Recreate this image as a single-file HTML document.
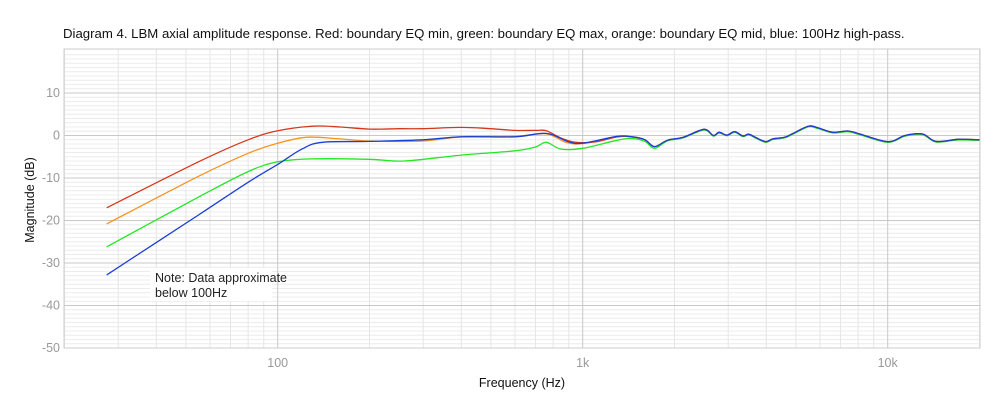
<!DOCTYPE html>
<html><head><meta charset="utf-8"><style>
body{margin:0;background:#fff;width:1000px;height:417px;overflow:hidden}
svg{display:block;font-family:"Liberation Sans",sans-serif}
</style></head><body>
<svg id="s" width="1000" height="417" viewBox="0 0 1000 417">
<text x="63" y="38" font-size="13.2" fill="#111">Diagram 4. LBM axial amplitude response. Red: boundary EQ min, green: boundary EQ max, orange: boundary EQ mid, blue: 100Hz high-pass.</text>
<g id="grid"></g>
<g id="curves" fill="none" stroke-width="1.3"></g>
<rect x="150" y="268" width="122" height="33" fill="#fff"/>
<text x="155" y="282" font-size="12.5" fill="#222">Note: Data approximate</text>
<text x="155" y="297" font-size="12.5" fill="#222">below 100Hz</text>
<text transform="translate(34,200) rotate(-90)" text-anchor="middle" font-size="12.5" fill="#111">Magnitude (dB)</text>
<text x="522" y="387" text-anchor="middle" font-size="12.5" fill="#111">Frequency (Hz)</text>
<g id="labels" font-size="12.5" fill="#999"></g>
</svg>
<script>
const L=64,R=980,T=49,B=348;
const X=f=>277.7+305*Math.log10(f/100);
const Y=d=>135.5-4.25*d;
const ns="http://www.w3.org/2000/svg";
function el(p,t,a,txt){const e=document.createElementNS(ns,t);for(const k in a)e.setAttribute(k,a[k]);if(txt)e.textContent=txt;document.getElementById(p).appendChild(e);}
for(let d=-50;d<=20;d++){if(d%10)el("grid","line",{x1:L,x2:R,y1:Y(d),y2:Y(d),stroke:"#ececec","stroke-width":1});}
for(const dec of [10,100,1000,10000])for(let m=2;m<=9;m++){const f=dec*m;const x=X(f);if(x>L&&x<R)el("grid","line",{x1:x,x2:x,y1:T,y2:B,stroke:"#e6e6e6","stroke-width":1});}
for(let d=-50;d<=10;d+=10){el("grid","line",{x1:L,x2:R,y1:Y(d),y2:Y(d),stroke:"#c8c8c8","stroke-width":1});el("labels","text",{x:60,y:Y(d)+4,"text-anchor":"end"},String(d));}
[[100,"100"],[1000,"1k"],[10000,"10k"]].forEach(([f,t])=>{el("grid","line",{x1:X(f),x2:X(f),y1:T,y2:B,stroke:"#c8c8c8","stroke-width":1});el("labels","text",{x:X(f),y:367,"text-anchor":"middle"},t);});
el("grid","rect",{x:L,y:T,width:R-L,height:B-T,fill:"none",stroke:"#ccc","stroke-width":1});
const hi=[[1450,-0.3],[1600,-1],[1720,-2.6],[1900,-1.1],[2140,-0.4],[2500,1.45],[2680,0],[2800,0.75],[2970,0.1],[3150,0.9],[3350,-0.1],[3500,0.3],[3700,-0.5],[3980,-1.45],[4200,-0.8],[4600,-0.4],[4900,0.5],[5500,2.2],[5900,1.8],[6600,0.75],[7400,1.05],[8100,0.35],[10000,-1.45],[11400,0],[13000,0.35],[14400,-1.4],[17000,-0.9],[20000,-1.0]];
const S={
red:[[27.5,-17],[55,-6.2],[80,-1],[100,1.1],[130,2.2],[160,2.0],[200,1.5],[250,1.6],[300,1.6],[400,1.9],[500,1.6],[600,1.2],[700,1.2],[760,1.1],[850,-0.6],[950,-1.6],[1100,-1.5],[1300,-0.3]],
orange:[[27.5,-20.8],[55,-9.6],[80,-4.2],[100,-1.8],[125,-0.4],[160,-0.8],[200,-1.3],[300,-1.3],[400,-0.3],[600,-0.2],[760,0.4],[880,-1.6],[1000,-1.9],[1300,-0.3]],
green:[[27.5,-26.2],[55,-14.5],[80,-8.5],[100,-6.2],[130,-5.5],[200,-5.6],[260,-6],[400,-4.6],[600,-3.6],[700,-2.7],[760,-1.6],[850,-3.2],[1000,-3],[1300,-1.1]],
blue:[[27.5,-32.8],[55,-18.7],[80,-11],[100,-6.8],[120,-3.2],[140,-1.6],[200,-1.4],[300,-1],[400,-0.3],[600,-0.3],[760,0.5],[900,-1.5],[1000,-1.8],[1300,-0.2]]};
const col={orange:"#f7931e",green:"#22e822",red:"#d4391c",blue:"#1a3fd8"};
function path(pts){const P=pts.map(([f,d])=>[X(f),Y(d)]);let s="M"+P[0][0].toFixed(1)+","+P[0][1].toFixed(1);
for(let i=0;i<P.length-1;i++){const p0=P[i-1]||P[i],p1=P[i],p2=P[i+1],p3=P[i+2]||p2;const k=1/6;
s+=`C${(p1[0]+(p2[0]-p0[0])*k).toFixed(1)},${(p1[1]+(p2[1]-p0[1])*k).toFixed(1)} ${(p2[0]-(p3[0]-p1[0])*k).toFixed(1)},${(p2[1]-(p3[1]-p1[1])*k).toFixed(1)} ${p2[0].toFixed(1)},${p2[1].toFixed(1)}`;}return s;}
["orange","green","red","blue"].forEach(n=>{let h=hi;if(n=="green")h=hi.map(([f,d])=>[f,f<1800?d-0.4:d-0.15]);el("curves","path",{d:path(S[n].concat(h)),stroke:col[n]});});
</script>
</body></html>
